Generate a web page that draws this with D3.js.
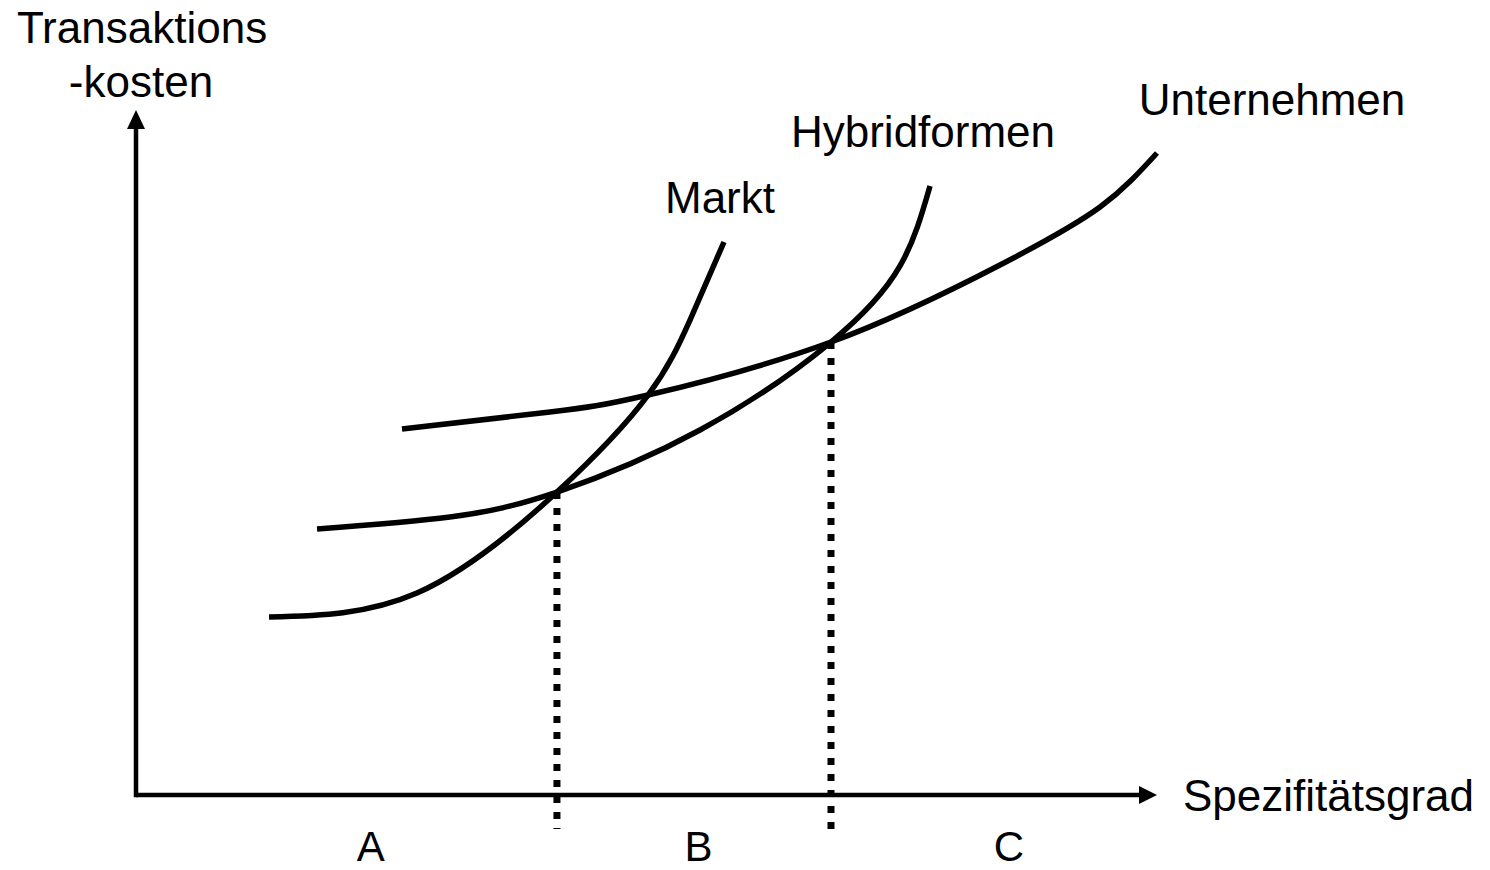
<!DOCTYPE html>
<html>
<head>
<meta charset="utf-8">
<script src="https://cdn.jsdelivr.net/npm/d3@7"></script>
<style>
html,body{margin:0;padding:0;background:#fff;}
svg{display:block;}
text{font-family:"Liberation Sans",Arial,sans-serif;fill:#000;}
</style>
</head>
<body>
<svg id="chart" width="1490" height="870"></svg>
<script>
// Conceptual data (arbitrary units, 0-100)
const marktX = [13.03, 27.52, 41.23, 50.15, 54.26, 57.59];
const marktY = [25.99, 29.49, 44.23, 58.39, 69.34, 80.73];

const hybridX = [17.73, 30.75, 41.23, 55.24, 68.07, 74.83, 77.77];
const hybridY = [38.83, 40.58, 44.23, 53.28, 66.13, 77.23, 88.91];

const unternX = [26.05, 40.55, 50.15, 68.07, 84.62, 94.42, 100.0];
const unternY = [53.43, 55.91, 58.39, 66.13, 77.37, 85.84, 93.72];

const seriesNames = ["Markt", "Hybridformen", "Unternehmen"];
const thresholdX = [41.23, 68.07];
const thresholdY = [44.23, 66.13];
const regionLabels = ["A", "B", "C"];
const regionCenters = [23.0, 55.1, 85.5];
const xAxisLabel = "Spezifitätsgrad";
const yAxisLabel = ["Transaktions", "-kosten"];

const svg = d3.select("#chart");
const x = d3.scaleLinear().domain([0, 100]).range([136, 1157]);
const y = d3.scaleLinear().domain([0, 100]).range([795, 110]);

// Axes with arrowheads
svg.append("line").attr("x1", x(0)).attr("x2", x(100) - 14)
  .attr("y1", y(0)).attr("y2", y(0)).attr("stroke", "#000").attr("stroke-width", 4.5);
svg.append("line").attr("x1", x(0)).attr("x2", x(0))
  .attr("y1", y(0) + 2.25).attr("y2", y(100) + 14).attr("stroke", "#000").attr("stroke-width", 4.5);
svg.append("path")
  .attr("d", `M${x(100)},${y(0)} L${x(100) - 18},${y(0) - 9} L${x(100) - 18},${y(0) + 9} Z`)
  .attr("fill", "#000");
svg.append("path")
  .attr("d", `M${x(0)},${y(100)} L${x(0) - 9},${y(100) + 19} L${x(0) + 9},${y(100) + 19} Z`)
  .attr("fill", "#000");

// Dotted threshold lines
thresholdX.forEach((tx, i) => {
  svg.append("line")
    .attr("x1", x(tx)).attr("x2", x(tx))
    .attr("y1", y(thresholdY[i])).attr("y2", 829)
    .attr("stroke", "#000").attr("stroke-width", 7)
    .attr("stroke-dasharray", "7,9");
});

// Curves
const line = d3.line().x(d => x(d[0])).y(d => y(d[1])).curve(d3.curveNatural);
const series = [
  d3.zip(marktX, marktY),
  d3.zip(hybridX, hybridY),
  d3.zip(unternX, unternY)
];
series.forEach(s => {
  svg.append("path").attr("d", line(s))
    .attr("fill", "none").attr("stroke", "#000").attr("stroke-width", 5.5);
});

// Series labels
const labelPos = [[720, 213], [923, 147], [1272, 115]];
seriesNames.forEach((n, i) => {
  svg.append("text").attr("x", labelPos[i][0]).attr("y", labelPos[i][1])
    .attr("text-anchor", "middle").attr("font-size", 44).text(n);
});

// Axis titles
svg.append("text").attr("x", 142).attr("y", 43).attr("text-anchor", "middle")
  .attr("font-size", 44).text(yAxisLabel[0]);
svg.append("text").attr("x", 141).attr("y", 97).attr("text-anchor", "middle")
  .attr("font-size", 44).text(yAxisLabel[1]);
svg.append("text").attr("x", 1183).attr("y", 811).attr("text-anchor", "start")
  .attr("font-size", 44).text(xAxisLabel);

// Region labels
regionLabels.forEach((l, i) => {
  svg.append("text").attr("x", x(regionCenters[i])).attr("y", 861)
    .attr("text-anchor", "middle").attr("font-size", 42).text(l);
});
</script>
</body>
</html>
